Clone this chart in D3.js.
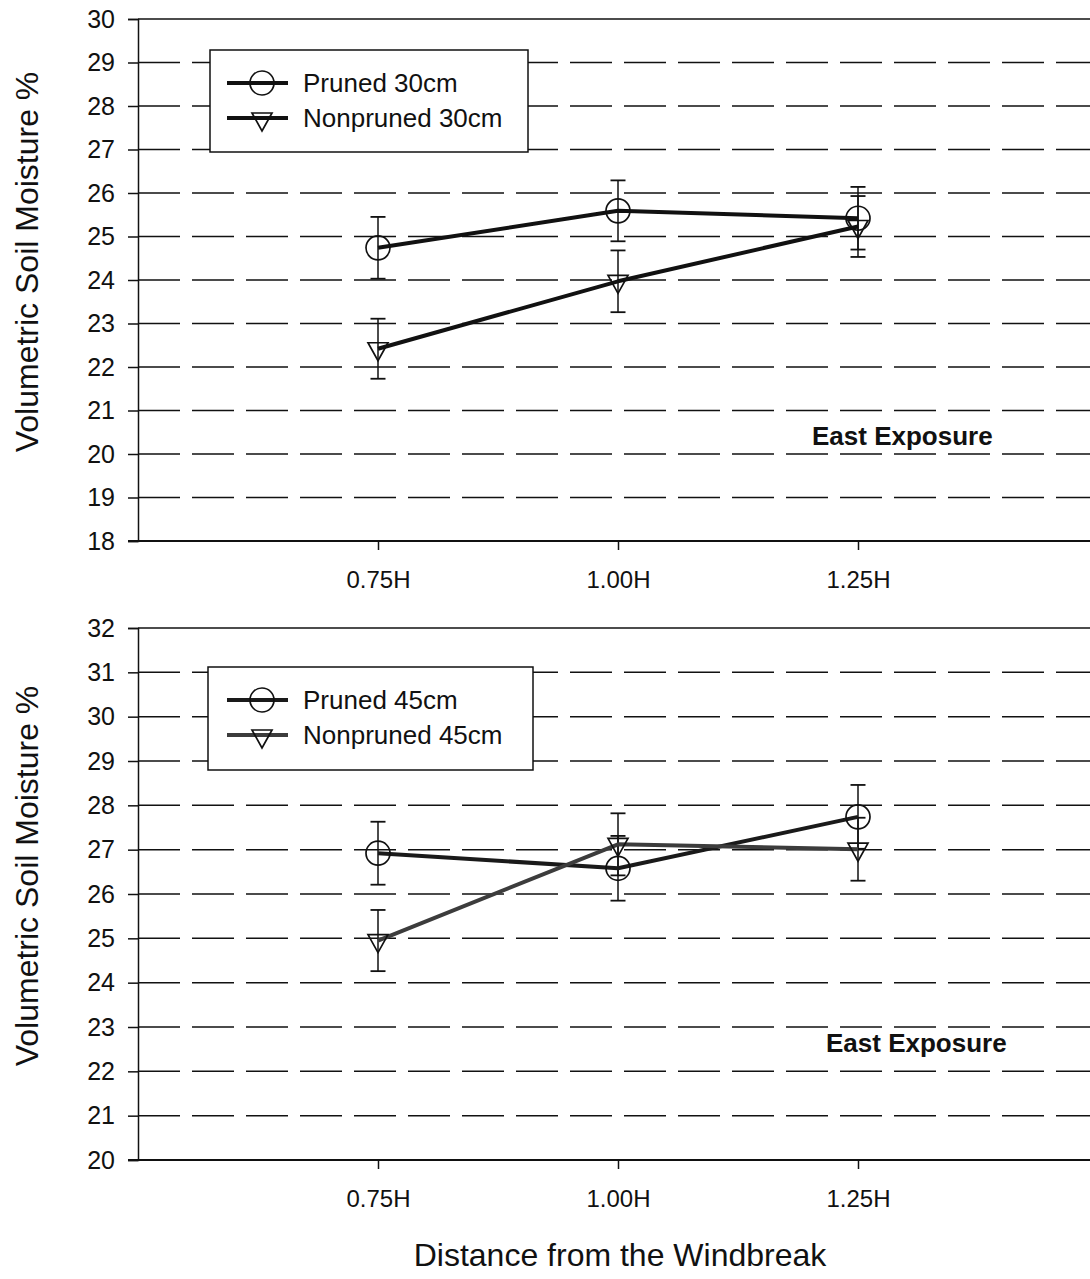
<!DOCTYPE html>
<html>
<head>
<meta charset="utf-8">
<script src="https://cdn.jsdelivr.net/npm/d3@7"></script>
<style>
  html, body { margin: 0; padding: 0; background: #fff; }
  svg { display: block; font-family: Arial, "Liberation Sans", sans-serif; }
</style>
</head>
<body>
<svg id="chart" width="1090" height="1279"></svg>
<script>
// Distance positions (multiples of windbreak height H) and their labels
const distances = [0.75, 1.00, 1.25];
const distanceLabels = ["0.75H", "1.00H", "1.25H"];

// Volumetric soil moisture (%) at 30 cm depth, means and standard errors
const pruned30 = [24.74, 25.59, 25.42];
const pruned30Err = [0.71, 0.70, 0.72];
const nonpruned30 = [22.42, 23.97, 25.23];
const nonpruned30Err = [0.69, 0.71, 0.70];

// Volumetric soil moisture (%) at 45 cm depth, means and standard errors
const pruned45 = [26.92, 26.58, 27.74];
const pruned45Err = [0.71, 0.73, 0.72];
const nonpruned45 = [24.95, 27.12, 27.01];
const nonpruned45Err = [0.69, 0.70, 0.71];

// y tick values for each panel
const yTicksTop = d3.range(18, 31);
const yTicksBottom = d3.range(20, 33);

const panels = [
  {
    top: 19, bottom: 541, yDomain: [18, 30], yTicks: yTicksTop,
    series: [
      { name: "Pruned 30cm", values: pruned30, err: pruned30Err, marker: "circle", color: "#111" },
      { name: "Nonpruned 30cm", values: nonpruned30, err: nonpruned30Err, marker: "triangle", color: "#111" }
    ],
    legend: { x: 210, y: 50, w: 318, h: 102 },
    titleY: 262, noteY: 445, noteX: 812
  },
  {
    top: 628, bottom: 1160, yDomain: [20, 32], yTicks: yTicksBottom,
    series: [
      { name: "Pruned 45cm", values: pruned45, err: pruned45Err, marker: "circle", color: "#1a1a1a" },
      { name: "Nonpruned 45cm", values: nonpruned45, err: nonpruned45Err, marker: "triangle", color: "#3c3c3c" }
    ],
    legend: { x: 208, y: 667, w: 325, h: 103 },
    titleY: 876, noteY: 1052, noteX: 826
  }
];

const svg = d3.select("#chart");
const left = 138, right = 1098;
const x = d3.scaleLinear().domain([0.5, 1.5]).range([left, right]);

// Downward-pointing triangle centred on its centroid
function trianglePath(cx, cy) {
  const hw = 10, h = 18;
  return `M${cx - hw},${cy - h / 3}L${cx + hw},${cy - h / 3}L${cx},${cy + 2 * h / 3}Z`;
}

function drawMarker(g, kind, cx, cy) {
  if (kind === "circle") {
    g.append("circle").attr("cx", cx).attr("cy", cy).attr("r", 12)
      .attr("fill", "none").attr("stroke", "#111").attr("stroke-width", 1.7);
  } else {
    g.append("path").attr("d", trianglePath(cx, cy))
      .attr("fill", "none").attr("stroke", "#111").attr("stroke-width", 1.7)
      .attr("stroke-linejoin", "miter");
  }
}

panels.forEach(p => {
  const y = d3.scaleLinear().domain(p.yDomain).range([p.bottom, p.top]);
  const g = svg.append("g");

  // dashed horizontal gridlines at interior ticks
  g.append("g").selectAll("line")
    .data(p.yTicks.filter(t => t > p.yDomain[0] && t < p.yDomain[1]))
    .join("line")
    .attr("x1", left).attr("x2", right)
    .attr("y1", d => y(d)).attr("y2", d => y(d))
    .attr("stroke", "#111").attr("stroke-width", 1.5)
    .attr("stroke-dasharray", "42,12");

  // solid frame line along the top of the plot
  g.append("line").attr("x1", left).attr("x2", right)
    .attr("y1", y(p.yDomain[1])).attr("y2", y(p.yDomain[1]))
    .attr("stroke", "#111").attr("stroke-width", 1.5);

  // y axis
  const yAxis = d3.axisLeft(y).tickValues(p.yTicks).tickSize(10).tickPadding(13)
    .tickFormat(d3.format("d"));
  const ya = g.append("g").attr("transform", `translate(${left},0)`).call(yAxis);
  ya.select(".domain").attr("stroke", "#111").attr("stroke-width", 1.5);
  ya.selectAll(".tick line").attr("stroke", "#111").attr("stroke-width", 1.5);
  ya.selectAll(".tick text").attr("font-size", 25).attr("fill", "#111")
    .attr("font-family", "Arial, 'Liberation Sans', sans-serif");

  // x axis
  const xAxis = d3.axisBottom(x).tickValues(distances).tickSize(9).tickPadding(21)
    .tickFormat((d, i) => distanceLabels[i]);
  const xa = g.append("g").attr("transform", `translate(0,${p.bottom})`).call(xAxis);
  xa.select(".domain").attr("d", `M${left - 10},0H${right}`)
    .attr("stroke", "#111").attr("stroke-width", 1.8);
  xa.selectAll(".tick line").attr("stroke", "#111").attr("stroke-width", 1.5);
  xa.selectAll(".tick text").attr("font-size", 24).attr("fill", "#111")
    .attr("font-family", "Arial, 'Liberation Sans', sans-serif");

  // legend box with white fill over the gridlines
  const L = p.legend;
  const lg = g.append("g");
  lg.append("rect").attr("x", L.x).attr("y", L.y).attr("width", L.w).attr("height", L.h)
    .attr("fill", "#fff").attr("stroke", "#111").attr("stroke-width", 1.5);
  p.series.forEach((s, i) => {
    const cy = L.y + 33 + i * 35;
    lg.append("line").attr("x1", 227).attr("x2", 288).attr("y1", cy).attr("y2", cy)
      .attr("stroke", s.color).attr("stroke-width", 4);
    drawMarker(lg, s.marker, 262, s.marker === "triangle" ? cy + 1 : cy);
    lg.append("text").attr("x", 303).attr("y", cy).attr("dy", "0.35em")
      .attr("font-size", 26).attr("fill", "#111").text(s.name);
  });

  // error bars
  p.series.forEach(s => {
    const eg = g.append("g");
    distances.forEach((d, i) => {
      const cx = x(d), lo = y(s.values[i] - s.err[i]), hi = y(s.values[i] + s.err[i]);
      eg.append("line").attr("x1", cx).attr("x2", cx).attr("y1", lo).attr("y2", hi)
        .attr("stroke", "#111").attr("stroke-width", 1.5);
      [lo, hi].forEach(v => eg.append("line").attr("x1", cx - 7.5).attr("x2", cx + 7.5)
        .attr("y1", v).attr("y2", v).attr("stroke", "#111").attr("stroke-width", 1.8));
    });
  });

  // series lines
  const line = d3.line().x((d, i) => x(distances[i])).y(d => y(d));
  p.series.forEach(s => {
    g.append("path").datum(s.values).attr("d", line)
      .attr("fill", "none").attr("stroke", s.color).attr("stroke-width", 4)
      .attr("stroke-linejoin", "round");
  });

  // markers
  p.series.forEach(s => {
    s.values.forEach((v, i) => drawMarker(g, s.marker, x(distances[i]), y(v)));
  });

  // panel annotation
  g.append("text").attr("x", p.noteX).attr("y", p.noteY)
    .attr("font-size", 26).attr("font-weight", "bold").attr("fill", "#111")
    .text("East Exposure");

  // y axis title
  g.append("text")
    .attr("transform", `translate(38,${p.titleY}) rotate(-90)`)
    .attr("text-anchor", "middle").attr("font-size", 32).attr("fill", "#111")
    .text("Volumetric Soil Moisture %");
});

// shared x axis title
svg.append("text").attr("x", 620).attr("y", 1266).attr("text-anchor", "middle")
  .attr("font-size", 32).attr("fill", "#111").text("Distance from the Windbreak");
</script>
</body>
</html>
